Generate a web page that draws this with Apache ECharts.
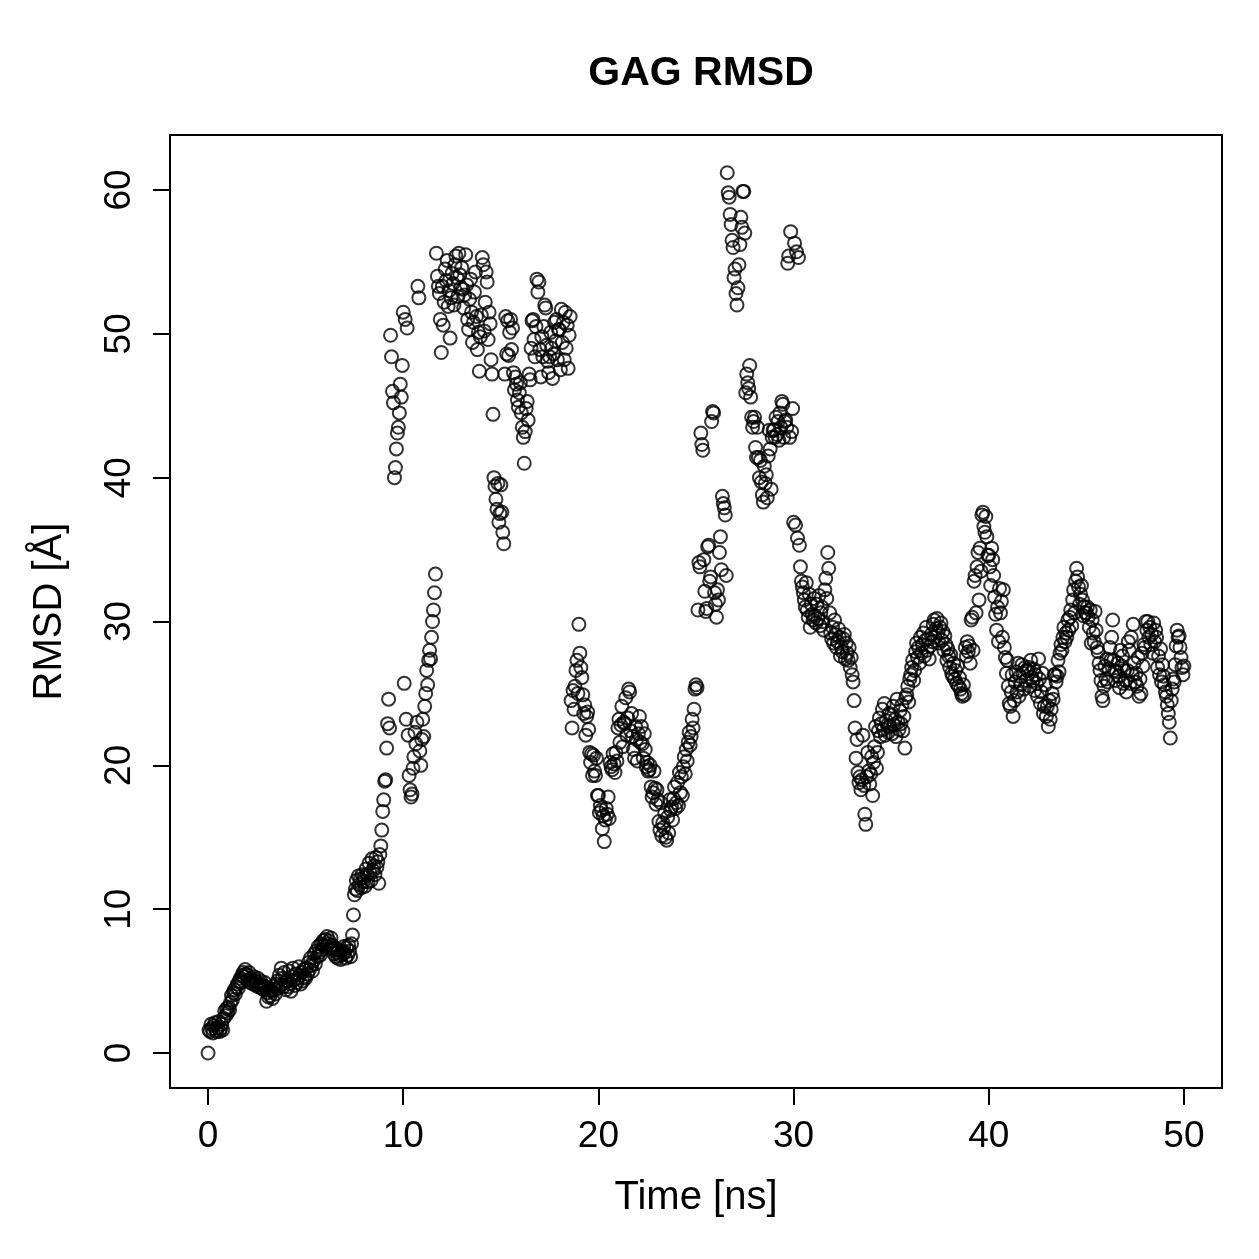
<!DOCTYPE html>
<html>
<head>
<meta charset="utf-8">
<title>GAG RMSD</title>
<script src="https://cdn.jsdelivr.net/npm/echarts@6/dist/echarts.min.js"></script>
<style>
  html, body { margin: 0; padding: 0; background: #fff; }
  #chart { width: 1259px; height: 1259px; }
</style>
</head>
<body>
<div id="chart"></div>
<script>
// frames every 0.05 ns, 20 values per ns row
var timeStep = 0.05;

var rmsd0to10 = [
  0, 1.6, 1.5, 2.0, 1.7, 1.4, 1.9, 2.1, 1.6, 1.5, 1.8, 2.2, 1.5, 1.7, 2.0, 1.6, 2.4, 2.9, 2.6, 3.1,
  2.8, 3.2, 3.0, 3.5, 4.0, 3.7, 4.2, 4.4, 4.1, 4.6, 4.8, 4.5, 5.0, 5.2, 4.9, 5.4, 5.6, 5.3, 5.8, 5.5,
  5.4, 5.1, 5.6, 4.9, 5.2, 5.0, 4.8, 5.3, 5.1, 4.7, 4.9, 5.2, 4.6, 4.8, 5.0, 4.5, 4.7, 4.4, 4.9, 4.6,
  3.6, 4.2, 3.9, 4.5, 4.0, 4.3, 3.8, 4.6, 4.4, 4.1, 4.8, 5.0, 4.5, 5.4, 4.7, 5.9, 5.2, 4.6, 5.6, 4.9,
  4.4, 5.0, 4.6, 5.7, 4.8, 4.3, 5.3, 5.9, 5.1, 4.7, 5.5, 4.9, 5.2, 6.0, 5.4, 4.8, 5.6, 5.0, 5.8, 5.3,
  5.2, 5.9, 5.5, 6.3, 5.8, 6.6, 6.1, 5.7, 6.4, 6.9, 6.2, 7.1, 6.7, 7.4, 7.0, 6.8, 7.6, 7.2, 7.8, 7.5,
  7.9, 7.4, 8.1, 7.6, 7.8, 7.3, 8.0, 7.5, 7.2, 6.9, 7.3, 6.7, 7.0, 6.6, 7.2, 6.8, 6.5, 7.1, 6.9, 7.4,
  7.0, 6.6, 7.3, 6.8, 7.5, 7.1, 6.7, 7.6, 8.2, 9.6, 11.0, 11.4, 12.0, 11.3, 12.3, 11.7, 12.1, 11.5, 12.4, 11.9,
  12.2, 11.6, 12.8, 12.4, 11.9, 13.2, 12.5, 12.0, 13.5, 12.7, 13.0, 12.4, 13.6, 12.9, 13.3, 11.8, 13.8, 14.4, 15.5, 16.8,
  17.6, 18.9, 19.0, 21.2, 22.9, 24.6, 22.6, 49.9, 48.4, 46.0, 45.2, 40.0, 40.7, 42.0, 43.1, 43.5, 44.5, 46.5, 45.6, 47.8
];

var rmsd10to20 = [
  51.5, 25.7, 51.0, 23.2, 50.4, 22.1, 19.3, 18.3, 17.8, 18.0, 19.8, 20.6, 22.3, 21.5, 23.0, 53.3, 52.5, 21.0, 20.0, 21.8,
  23.2, 22.0, 24.1, 25.0, 26.6, 25.6, 27.3, 28.0, 27.4, 28.9, 30.0, 30.8, 32.0, 33.3, 55.6, 54.0, 53.3, 52.8, 51.0, 48.7,
  53.3, 50.6, 52.2, 54.5, 53.7, 55.1, 51.9, 53.0, 49.7, 52.5, 54.2, 53.5, 52.0, 54.8, 55.4, 53.9, 52.6, 55.6, 54.1, 53.2,
  54.6, 53.1, 51.8, 52.7, 55.5, 53.4, 51.0, 50.3, 52.4, 53.8, 51.5, 49.4, 50.8, 52.9, 54.3, 51.2, 48.9, 50.1, 47.4, 49.8,
  51.3, 55.3, 54.8, 50.2, 52.2, 54.3, 53.6, 49.6, 51.5, 50.7, 48.2, 47.2, 44.4, 40.0, 39.4, 38.5, 37.8, 39.6, 36.9, 37.5,
  39.5, 37.6, 36.2, 35.4, 47.2, 51.2, 48.6, 50.9, 48.5, 50.1, 51.0, 48.9, 50.4, 47.3, 46.1, 47.0, 46.5, 45.4, 44.9, 45.9,
  46.6, 44.5, 43.5, 42.8, 41.0, 43.2, 44.8, 45.3, 44.0, 47.2, 46.8, 49.0, 50.9, 51.0, 49.6, 48.4, 50.5, 53.8, 52.9, 53.6,
  48.9, 47.0, 49.8, 48.4, 50.5, 52.0, 51.8, 49.2, 48.1, 47.3, 48.4, 50.1, 49.0, 46.9, 48.6, 50.8, 49.5, 51.0, 48.2, 50.3,
  50.3, 47.5, 51.7, 49.4, 50.8, 48.2, 51.5, 49.0, 50.6, 47.6, 49.9, 51.2, 24.5, 22.6, 25.2, 23.9, 25.5, 26.6, 27.3, 25.0,
  29.8, 27.8, 26.8, 26.1, 24.9, 23.6, 24.2, 22.1, 23.4, 23.7, 22.5, 20.9, 20.2, 20.8, 19.3, 20.7, 19.6, 19.3, 20.5, 17.9
];

var rmsd20to30 = [
  17.9, 16.7, 17.2, 16.9, 15.6, 16.5, 14.7, 16.2, 17.0, 16.6, 17.8, 16.3, 20.2, 19.9, 19.7, 20.8, 20.1, 19.5, 20.9, 20.3,
  22.6, 23.2, 21.6, 22.8, 24.1, 21.3, 23.0, 22.9, 24.7, 22.1, 23.3, 25.3, 25.1, 22.4, 23.6, 22.0, 21.1, 20.5, 22.7, 21.8,
  20.3, 22.2, 23.4, 21.6, 22.7, 21.5, 20.5, 22.2, 21.1, 19.9, 20.2, 19.6, 19.7, 20.0, 18.5, 17.8, 18.1, 19.6, 18.4, 17.3,
  18.3, 17.6, 16.1, 15.5, 17.4, 15.1, 16.0, 15.7, 16.7, 15.0, 14.8, 16.4, 15.3, 17.6, 16.9, 17.1, 16.2, 17.7, 18.5, 17.0,
  17.4, 18.8, 17.2, 19.5, 18.1, 19.2, 17.9, 19.9, 20.6, 19.4, 21.1, 20.3, 21.6, 22.3, 21.4, 22.0, 23.2, 22.6, 23.9, 25.3,
  25.6, 25.4, 30.8, 34.1, 33.8, 43.1, 42.3, 41.9, 34.3, 32.1, 30.7, 30.9, 35.2, 35.3, 32.8, 33.1, 43.9, 44.6, 44.5, 32.0,
  31.2, 30.3, 32.2, 31.5, 34.8, 35.9, 33.6, 38.7, 38.2, 37.9, 37.4, 33.2, 61.2, 59.8, 59.5, 58.3, 57.6, 56.5, 56.0, 53.9,
  54.5, 52.8, 52.0, 53.2, 54.8, 56.2, 58.1, 57.4, 59.9, 59.9, 57.0, 45.9, 47.2, 46.6, 46.2, 47.8, 45.6, 44.2, 43.5, 43.9,
  44.2, 42.1, 41.4, 43.5, 41.4, 40.0, 41.2, 39.7, 38.8, 38.3, 40.8, 39.6, 40.2, 38.6, 41.5, 43.3, 42.0, 39.2, 42.8, 43.3,
  43.3, 42.8, 44.2, 43.0, 43.9, 42.6, 44.5, 43.5, 45.3, 45.1, 42.8, 43.9, 44.0, 43.5, 54.9, 55.4, 42.8, 57.1, 43.2, 44.8
];

var rmsd30to40 = [
  36.9, 56.3, 36.7, 55.7, 35.8, 55.3, 35.3, 33.8, 32.8, 32.4, 32.0, 31.5, 31.0, 32.7, 30.8, 30.3, 31.9, 29.6, 31.2, 30.5,
  30.1, 31.6, 30.4, 29.9, 31.2, 30.2, 31.8, 29.7, 30.6, 31.0, 30.0, 29.4, 32.2, 33.0, 31.6, 34.8, 33.7, 30.6, 29.2, 28.8,
  29.6, 28.5, 30.1, 29.1, 28.2, 28.6, 29.5, 28.9, 27.6, 28.2, 27.9, 28.8, 29.1, 27.4, 28.5, 27.8, 27.3, 28.2, 26.8, 27.5,
  26.3, 25.8, 24.5, 22.6, 20.5, 21.8, 19.5, 18.8, 19.2, 18.3, 19.0, 22.1, 18.6, 16.6, 15.9, 19.2, 20.9, 19.6, 18.7, 19.4,
  20.6, 17.9, 20.2, 21.3, 22.7, 19.8, 20.9, 22.4, 23.3, 22.0, 22.9, 23.9, 22.5, 24.3, 22.1, 23.1, 22.8, 22.3, 23.6, 22.7,
  23.5, 22.2, 24.1, 22.8, 23.2, 22.0, 24.6, 23.0, 22.5, 23.8, 22.9, 24.2, 22.4, 23.4, 21.2, 24.7, 24.9, 25.5, 24.4, 26.0,
  26.3, 26.8, 27.3, 25.9, 26.6, 27.9, 28.5, 27.5, 28.2, 27.1, 28.9, 27.8, 28.4, 29.2, 27.6, 28.7, 29.6, 28.0, 28.8, 27.4,
  28.3, 29.1, 28.6, 29.8, 30.1, 28.9, 29.5, 30.2, 29.2, 28.5, 29.6, 29.9, 28.7, 29.3, 28.0, 29.0, 28.4, 27.3, 28.1, 27.6,
  26.8, 27.7, 26.4, 26.2, 27.1, 26.0, 26.6, 25.7, 26.9, 25.5, 26.1, 25.3, 25.0, 24.8, 25.6, 24.9, 28.2, 27.6, 28.6, 27.9,
  28.3, 27.1, 30.1, 30.3, 28.0, 32.8, 33.2, 30.6, 33.8, 34.8, 31.5, 35.1, 33.5, 37.4, 37.6, 36.6, 36.2, 37.3, 35.9, 34.6
];

var rmsd40to50 = [
  34.6, 33.8, 32.5, 35.1, 34.3, 33.2, 31.7, 30.5, 29.4, 31.0, 28.6, 32.3, 30.6, 31.4, 28.9, 32.2, 28.2, 27.5, 26.4, 27.3,
  25.5, 24.3, 24.1, 25.1, 26.3, 23.4, 24.5, 25.8, 26.5, 25.1, 27.1, 24.8, 26.2, 25.6, 27.0, 26.4, 25.3, 26.8, 25.9, 26.6,
  26.6, 26.8, 25.5, 27.3, 26.1, 25.9, 26.7, 25.2, 26.3, 25.7, 24.8, 27.4, 26.0, 24.3, 25.1, 26.4, 23.6, 24.1, 25.6, 23.4,
  24.1, 22.7, 24.5, 23.2, 23.9, 25.0, 24.6, 26.3, 26.3, 25.8, 26.2, 27.3, 26.5, 27.8, 28.4, 28.0, 28.9, 29.6, 28.6, 29.2,
  28.9, 30.1, 29.4, 30.3, 30.8, 29.7, 31.5, 32.2, 30.6, 32.8, 33.7, 33.1, 32.4, 31.2, 31.9, 32.5, 31.5, 30.4, 31.0, 30.6,
  30.6, 31.0, 30.3, 29.6, 30.8, 28.5, 30.1, 29.2, 28.6, 30.7, 29.4, 28.2, 27.9, 27.1, 26.6, 25.9, 24.8, 24.5, 25.5, 26.9,
  26.0, 27.4, 25.8, 26.7, 28.2, 27.3, 28.9, 30.1, 27.3, 26.6, 25.9, 26.5, 27.1, 26.2, 25.4, 28.0, 26.9, 27.6, 25.7, 26.6,
  25.9, 25.1, 26.6, 28.6, 28.0, 25.7, 28.9, 26.3, 29.8, 27.1, 25.8, 26.4, 25.5, 27.5, 24.8, 26.0, 25.0, 27.8, 26.9, 28.4,
  28.2, 30.0, 29.4, 30.0, 28.9, 29.6, 28.4, 29.1, 27.8, 29.9, 28.6, 29.4, 28.9, 26.8, 27.6, 26.3, 28.1, 25.8, 27.0, 26.2,
  25.6, 25.1, 24.8, 24.2, 23.6, 23.0, 21.9, 24.5, 25.3, 26.0, 25.8, 27.0, 28.3, 29.4, 28.9, 29.0, 28.2, 27.5, 26.8, 26.3,
  26.9
];

var xTicks = [0, 10, 20, 30, 40, 50];
var yTicks = [0, 10, 20, 30, 40, 50, 60];

var rmsd = rmsd0to10.concat(rmsd10to20, rmsd20to30, rmsd30to40, rmsd40to50);
var points = [];
for (var i = 0; i < rmsd.length; i++) {
  points.push([+(i * timeStep).toFixed(2), rmsd[i]]);
}

var font = 'Liberation Sans, Arial, Helvetica, sans-serif';

var chart = echarts.init(document.getElementById('chart'), null, { renderer: 'canvas' });

var option = {
  animation: false,
  backgroundColor: '#fff',
  title: {
    text: 'GAG RMSD',
    left: 696,
    top: 48,
    textAlign: 'center',
    textStyle: { fontFamily: font, fontSize: 41, fontWeight: 'bold', color: '#000' }
  },
  grid: {
    left: 170, top: 135, width: 1052, height: 953,
    show: true, borderColor: '#000', borderWidth: 2, backgroundColor: 'transparent'
  },
  xAxis: {
    type: 'value',
    min: -1.95, max: 51.95,
    name: 'Time [ns]',
    nameLocation: 'middle',
    nameGap: 90,
    nameTextStyle: { fontFamily: font, fontSize: 40, color: '#000' },
    axisLine: { show: true, onZero: false, lineStyle: { color: '#000', width: 2 } },
    axisTick: { show: true, inside: false, length: 17, customValues: xTicks, lineStyle: { color: '#000', width: 2 } },
    axisLabel: { show: true, margin: 30, customValues: xTicks, fontFamily: font, fontSize: 37, color: '#000' },
    splitLine: { show: false }
  },
  yAxis: {
    type: 'value',
    min: -2.43, max: 63.82,
    name: 'RMSD [Å]',
    nameLocation: 'middle',
    nameGap: 100,
    nameTextStyle: { fontFamily: font, fontSize: 40, color: '#000' },
    axisLine: { show: true, onZero: false, lineStyle: { color: '#000', width: 2 } },
    axisTick: { show: true, inside: false, length: 17, customValues: yTicks, lineStyle: { color: '#000', width: 2 } },
    axisLabel: { show: true, margin: 32, rotate: 90, customValues: yTicks, fontFamily: font, fontSize: 37, color: '#000' },
    splitLine: { show: false }
  },
  series: [{
    type: 'scatter',
    data: points,
    symbol: 'circle',
    symbolSize: 13,
    progressive: 0,
    itemStyle: { color: 'rgba(0,0,0,0)', borderColor: '#000', borderWidth: 2 }
  }]
};

chart.setOption(option);
</script>
</body>
</html>
